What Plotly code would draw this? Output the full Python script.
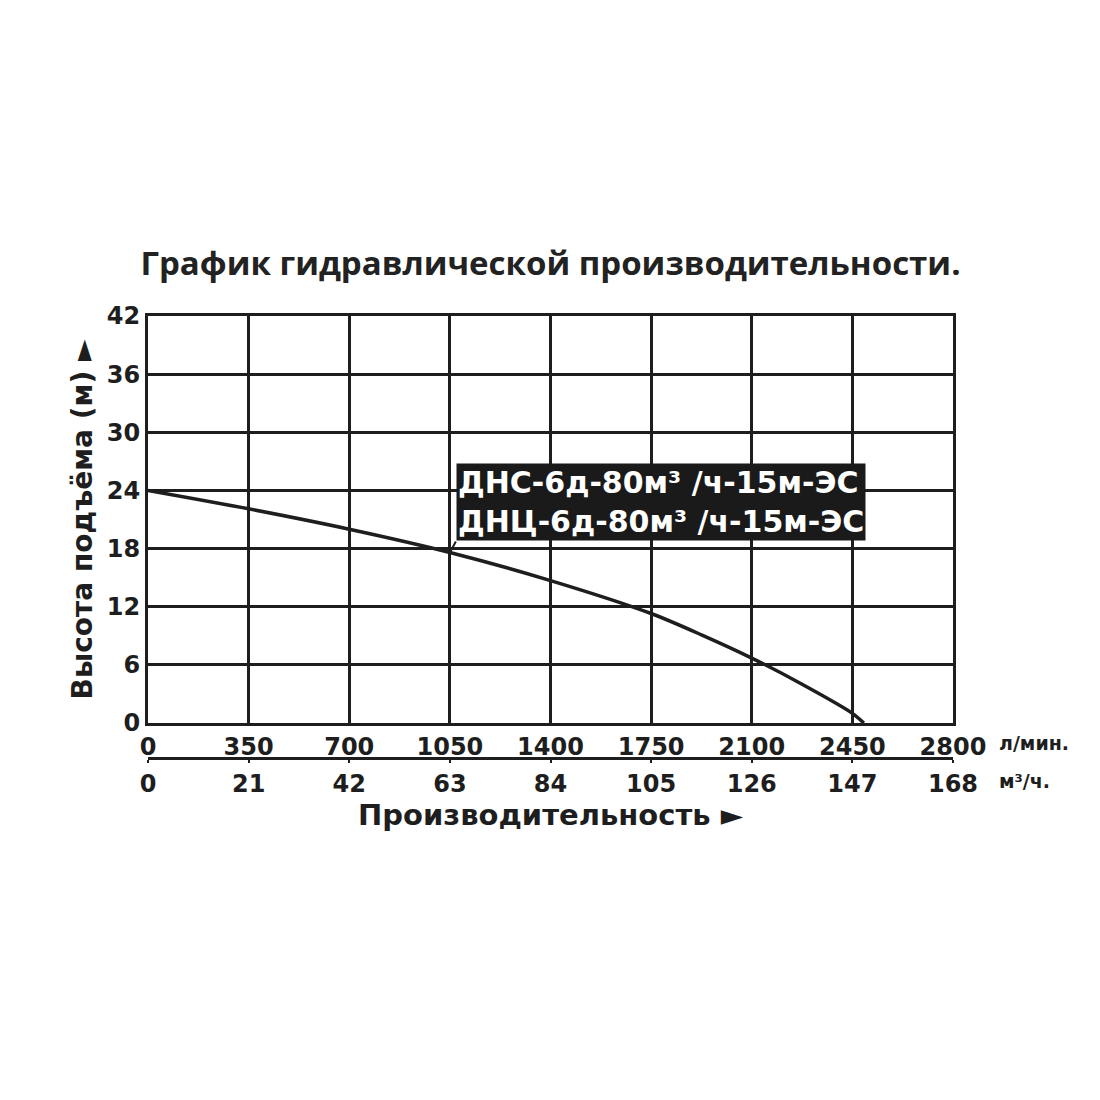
import plotly.graph_objects as go

# Data
flow_lpm = [0, 350, 700, 1050, 1400, 1750, 1925, 2100, 2275, 2450, 2490]
head_m = [24.0, 22.1, 20.0, 17.6, 14.7, 11.3, 9.1, 6.7, 4.0, 1.0, 0.0]

x_ticks_lpm = [0, 350, 700, 1050, 1400, 1750, 2100, 2450, 2800]
x_ticks_m3h = [0, 21, 42, 63, 84, 105, 126, 147, 168]
y_ticks = [0, 6, 12, 18, 24, 30, 36, 42]

title_text = "График гидравлической производительности."
y_title = "Высота подъёма (м) ►"
x_title = "Производительность ►"
label_text = "ДНС-6д-80м³ /ч-15м-ЭС<br>ДНЦ-6д-80м³ /ч-15м-ЭС"
unit_lpm = "л/мин."
unit_m3h = "м³/ч."

FONT = "DejaVu Sans"
INK = "#1e1e1e"

# layout geometry (figure pixels)
ML, MT, MR, MB = 140, 308, 155, 308
PLOT_H = 1100 - MT - MB          # 484
AXIS_Y = 715                      # bottom of main axis
AXIS2_Y = 750                     # second axis line

fig = go.Figure()
fig.add_trace(go.Scatter(
    x=flow_lpm, y=head_m, mode="lines",
    line=dict(color=INK, width=3.5, shape="spline", smoothing=0.8),
    showlegend=False, hoverinfo="skip",
))
fig.add_trace(go.Scatter(
    x=[x_ticks_m3h[0], x_ticks_m3h[-1]], y=[0, 0], xaxis="x2", yaxis="y",
    mode="lines", line=dict(width=0), showlegend=False, hoverinfo="skip",
))

fig.update_layout(
    width=1100, height=1100,
    paper_bgcolor="white", plot_bgcolor="white",
    margin=dict(l=ML, r=MR, t=MT, b=MB, autoexpand=False),
    title=dict(
        text=title_text, x=0.5, xanchor="center", xref="paper",
        y=1 - 255 / 1100, yref="container", yanchor="middle",
        font=dict(family="Open Sans", size=33, color="#222", weight="bold"),
    ),
    xaxis=dict(
        range=[0, 2800], tickvals=x_ticks_lpm, ticktext=[str(v) for v in x_ticks_lpm],
        showgrid=True, gridcolor=INK, gridwidth=2.5,
        showline=True, linecolor=INK, linewidth=3, mirror=True,
        ticks="", zeroline=False,
        tickfont=dict(family=FONT, size=24, color=INK, weight="bold"),
        anchor="y",
    ),
    xaxis2=dict(
        range=[0, 168], tickvals=x_ticks_m3h, ticktext=[str(v) for v in x_ticks_m3h],
        overlaying="x", side="bottom", anchor="free",
        position=(1100 - MB - AXIS2_Y) / PLOT_H,
        showgrid=False, zeroline=False,
        showline=True, linecolor=INK, linewidth=2.5,
        ticks="outside", ticklen=3, tickwidth=2, tickcolor=INK,
        tickfont=dict(family=FONT, size=24, color=INK, weight="bold"),
        title=dict(text=x_title, standoff=2,
                   font=dict(family=FONT, size=29, color=INK, weight="bold")),
    ),
    yaxis=dict(
        range=[0, 42], tickvals=y_ticks, ticktext=[str(v) for v in y_ticks],
        domain=[(1100 - MB - AXIS_Y) / PLOT_H, 1],
        showgrid=True, gridcolor=INK, gridwidth=2.5,
        showline=True, linecolor=INK, linewidth=3, mirror=True,
        ticks="", zeroline=False,
        tickfont=dict(family=FONT, size=24, color=INK, weight="bold"),
        title=dict(text=y_title, standoff=6,
                   font=dict(family=FONT, size=28, color=INK, weight="bold")),
    ),
    annotations=[
        dict(
            x=flow_lpm[3], y=head_m[3], xref="x", yref="y",
            text=label_text, showarrow=True, arrowhead=0, arrowwidth=2,
            arrowcolor=INK, ax=6, ay=-11, xanchor="left", yanchor="bottom",
            align="left", bgcolor="#1a1a1a", borderpad=1,
            font=dict(family=FONT, size=30, color="white", weight="bold"),
        ),
        dict(
            x=1.055, y=0, xref="paper", yref="y", text=unit_lpm, showarrow=False,
            xanchor="left", yanchor="middle", yshift=-20,
            font=dict(family=FONT, size=19, color=INK, weight="bold"),
        ),
        dict(
            x=1.055, y=(1100 - MB - 773) / PLOT_H, xref="paper", yref="paper",
            text=unit_m3h, showarrow=False,
            xanchor="left", yanchor="middle",
            font=dict(family=FONT, size=19, color=INK, weight="bold"),
        ),
    ],
)

fig.write_html("out.html")
